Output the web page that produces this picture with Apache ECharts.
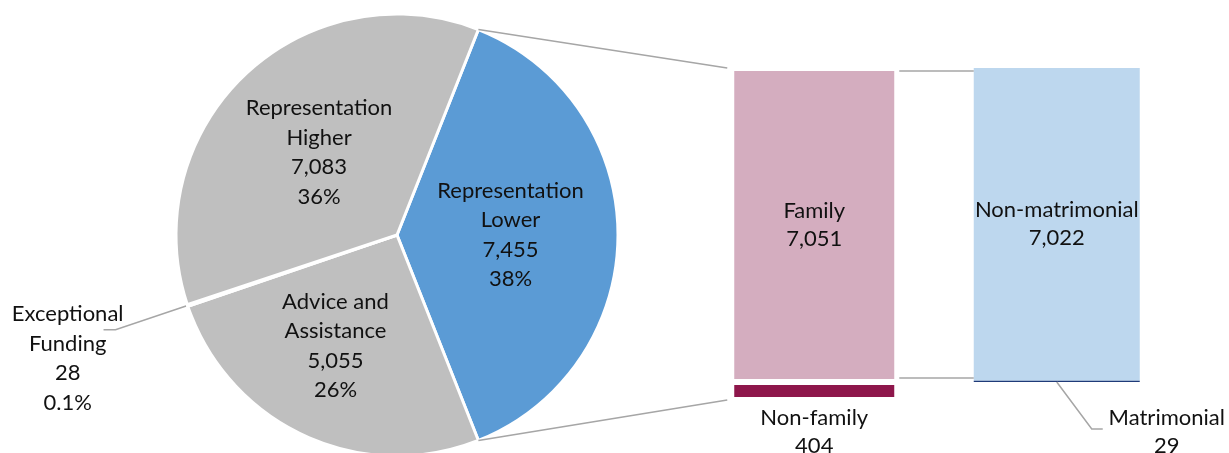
<!DOCTYPE html>
<html>
<head>
<meta charset="utf-8">
<script src="https://cdn.jsdelivr.net/npm/echarts@6/dist/echarts.min.js"></script>
<style>
html, body { margin: 0; padding: 0; background: #fff; }
#chart { width: 1229px; height: 453px; }
</style>
</head>
<body>
<div id="chart"></div>
<script>
// pie - all applications
const pieNames = ['Representation\nLower', 'Advice and\nAssistance', 'Exceptional\nFunding', 'Representation\nHigher'];
const pieValues = [7455, 5055, 28, 7083];
const pieColors = ['#5B9BD5', '#BFBFBF', '#BFBFBF', '#BFBFBF'];

// bar of pie - Representation Lower split, then Family split
const barCats = ['Representation Lower', 'Family'];
const barTopNames = ['Family', 'Non-matrimonial'];
const barTopValues = [7051, 7022];
const barTopColors = ['#D4ADBF', '#BDD7EE'];
const barBottomNames = ['Non-family', 'Matrimonial'];
const barBottomValues = [404, 29];
const barBottomColors = ['#8E164B', '#1F3A78'];

const FONT = 'Lato, "Noto Sans", sans-serif';
const FS = 22;
const TXT = '#111';
const LINE = '#A6A6A6';

function fmt(v) {
  return String(v).replace(/\B(?=(\d{3})+(?!\d))/g, ',');
}

const chart = echarts.init(document.getElementById('chart'));
const total = pieValues.reduce((a, b) => a + b, 0);

const option = {
  animation: false,
  textStyle: { fontFamily: FONT },
  grid: { left: 693, right: 51, top: 68, bottom: 53 },
  xAxis: { type: 'category', data: barCats, show: false },
  yAxis: { type: 'value', inverse: true, min: 0, max: barTopValues[0] + barBottomValues[0], show: false },
  series: [
    {
      type: 'pie',
      center: [397, 235],
      radius: 221,
      clockwise: true,
      startAngle: pieValues[0] / total * 180,
      avoidLabelOverlap: false,
      itemStyle: { borderColor: '#fff', borderWidth: 3 },
      label: {
        show: true,
        position: 'inside',
        color: TXT,
        formatter: function (p) {
          let pct = p.percent < 1 ? p.percent.toFixed(1) : Math.round(p.percent);
          return p.name.split('\n').concat([fmt(p.value), pct + '%']).map(s => '{a|' + s + '}').join('\n');
        },
        rich: { a: { fontFamily: FONT, fontSize: FS, lineHeight: 29.5, color: TXT, align: 'center' } }
      },
      labelLine: { show: false },
      labelLayout: function (p) {
        if (p.dataIndex === 1) return { dx: -7, dy: 4 };
      },
      data: pieValues.map((v, i) => {
        const d = { name: pieNames[i], value: v, itemStyle: { color: pieColors[i] } };
        if (i === 2) {
          d.label = { position: 'outside', distanceToLabelLine: -20, padding: [57, 0, 0, 0] };
          d.labelLine = { show: true, length: 76, length2: 12, lineStyle: { color: LINE, width: 1.5 } };
        }
        return d;
      })
    },
    {
      type: 'bar',
      stack: 'split',
      barWidth: 166,
      label: {
        show: true,
        position: 'inside',
        color: TXT,
        fontFamily: FONT,
        fontSize: FS,
        lineHeight: 28,
        formatter: p => barTopNames[p.dataIndex] + '\n' + fmt(p.value)
      },
      data: barTopValues.map((v, i) => ({
        value: v,
        itemStyle: { color: barTopColors[i], borderColor: '#fff', borderWidth: i === 0 ? 3 : 0 }
      }))
    },
    {
      type: 'bar',
      stack: 'split',
      barWidth: 166,
      label: {
        show: true,
        position: 'bottom',
        distance: 4,
        color: TXT,
        fontFamily: FONT,
        fontSize: FS,
        lineHeight: 28,
        formatter: p => barBottomNames[p.dataIndex] + '\n' + fmt(p.value)
      },
      data: barBottomValues.map((v, i) => {
        const d = {
          value: v,
          itemStyle: { color: barBottomColors[i], borderColor: '#fff', borderWidth: i === 0 ? 3 : 0 }
        };
        if (i === 1) d.label = { distance: 22, offset: [110, 0] };
        return d;
      })
    }
  ]
};
chart.setOption(option);

// connector lines, placed from the pie layout and bar scale
const lay = chart.getModel().getSeriesByIndex(0).getData().getItemLayout(0);
const pA = [lay.cx + lay.r * Math.cos(lay.startAngle), lay.cy + lay.r * Math.sin(lay.startAngle)];
const pB = [lay.cx + lay.r * Math.cos(lay.endAngle), lay.cy + lay.r * Math.sin(lay.endAngle)];
const half = 83;
const b1Top = chart.convertToPixel({ gridIndex: 0 }, [0, 0]);
const b1Bot = chart.convertToPixel({ gridIndex: 0 }, [0, barTopValues[0] + barBottomValues[0]]);
const b1Mid = chart.convertToPixel({ gridIndex: 0 }, [0, barTopValues[0]]);
const b2Top = chart.convertToPixel({ gridIndex: 0 }, [1, 0]);
const b2Bot = chart.convertToPixel({ gridIndex: 0 }, [1, barTopValues[1] + barBottomValues[1]]);

function seg(points) {
  return { type: 'polyline', silent: true, z: 10, shape: { points: points }, style: { stroke: LINE, lineWidth: 1.5, fill: null } };
}

chart.setOption({
  graphic: [
    seg([pA, [b1Top[0] - half - 4, b1Top[1]]]),
    seg([pB, [b1Bot[0] - half - 4, b1Bot[1]]]),
    seg([[b1Top[0] + half + 2, b1Top[1] + 3], [b2Top[0] - half, b2Top[1] + 3]]),
    seg([[b1Mid[0] + half + 2, b1Mid[1] - 4], [b2Top[0] - half, b1Mid[1] - 4]]),
    seg([[b2Bot[0], b2Bot[1]], [b2Bot[0] + 35, b2Bot[1] + 47], [b2Bot[0] + 46, b2Bot[1] + 47]])
  ]
});
</script>
</body>
</html>
